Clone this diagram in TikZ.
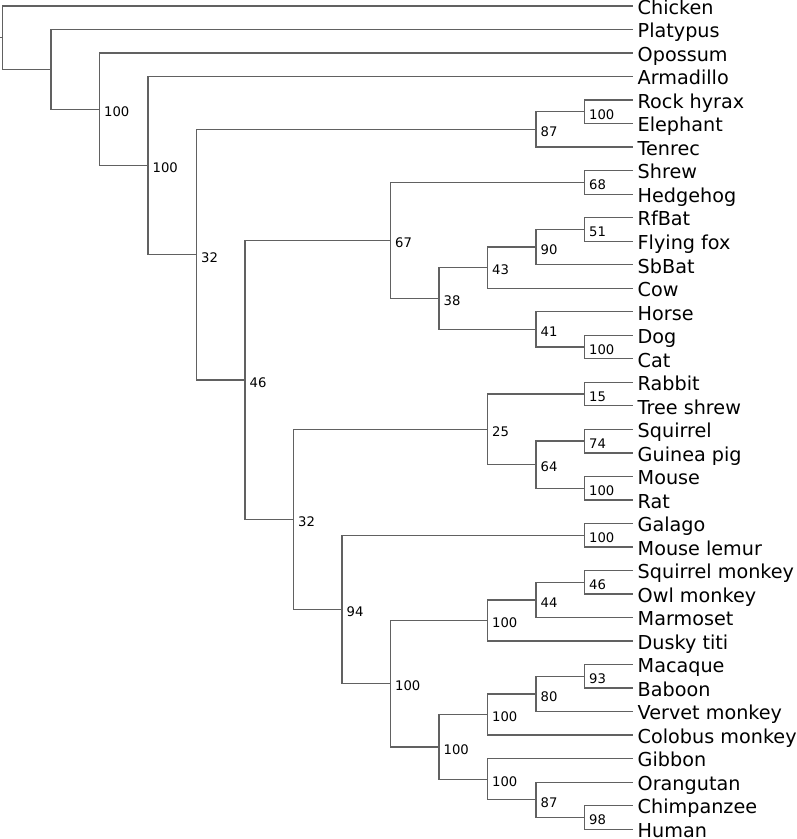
\documentclass[tikz,border=0pt]{standalone}
\usepackage{fontspec}
\setmainfont{DejaVu Sans}
\tikzset{
  edge/.style={draw=black!62, line width=1.3pt},
  leaf/.style={anchor=west, inner xsep=4.5pt, inner ysep=0pt, text height=16.6pt, text depth=0pt, font=\fontsize{19.2}{19.2}\selectfont},
  support/.style={anchor=west, inner xsep=4.5pt, inner ysep=0pt, text height=14.6pt, text depth=0pt, font=\fontsize{13.2}{13.2}\selectfont}
}
\begin{document}
\begin{tikzpicture}[x=1pt,y=-1pt]
\useasboundingbox (0,0) rectangle (797,839);

% leaves
\node[leaf] (chicken) at (633,6) {Chicken};
\node[leaf] (platypus) at (633,29.52) {Platypus};
\node[leaf] (opossum) at (633,53.04) {Opossum};
\node[leaf] (armadillo) at (633,76.56) {Armadillo};
\node[leaf] (hyrax) at (633,100.08) {Rock hyrax};
\node[leaf] (elephant) at (633,123.6) {Elephant};
\node[leaf] (tenrec) at (633,147.12) {Tenrec};
\node[leaf] (shrew) at (633,170.64) {Shrew};
\node[leaf] (hedgehog) at (633,194.16) {Hedgehog};
\node[leaf] (rfbat) at (633,217.68) {RfBat};
\node[leaf] (flyfox) at (633,241.2) {Flying fox};
\node[leaf] (sbbat) at (633,264.72) {SbBat};
\node[leaf] (cow) at (633,288.24) {Cow};
\node[leaf] (horse) at (633,311.76) {Horse};
\node[leaf] (dog) at (633,335.28) {Dog};
\node[leaf] (cat) at (633,358.8) {Cat};
\node[leaf] (rabbit) at (633,382.32) {Rabbit};
\node[leaf] (treeshrew) at (633,405.84) {Tree shrew};
\node[leaf] (squirrel) at (633,429.36) {Squirrel};
\node[leaf] (guineapig) at (633,452.88) {Guinea pig};
\node[leaf] (mouse) at (633,476.4) {Mouse};
\node[leaf] (rat) at (633,499.92) {Rat};
\node[leaf] (galago) at (633,523.44) {Galago};
\node[leaf] (mlemur) at (633,546.96) {Mouse lemur};
\node[leaf] (sqmonkey) at (633,570.48) {Squirrel monkey};
\node[leaf] (owlmonkey) at (633,594) {Owl monkey};
\node[leaf] (marmoset) at (633,617.52) {Marmoset};
\node[leaf] (titi) at (633,641.04) {Dusky titi};
\node[leaf] (macaque) at (633,664.56) {Macaque};
\node[leaf] (baboon) at (633,688.08) {Baboon};
\node[leaf] (vervet) at (633,711.6) {Vervet monkey};
\node[leaf] (colobus) at (633,735.12) {Colobus monkey};
\node[leaf] (gibbon) at (633,758.64) {Gibbon};
\node[leaf] (orangutan) at (633,782.16) {Orangutan};
\node[leaf] (chimp) at (633,805.68) {Chimpanzee};
\node[leaf] (human) at (633,829.2) {Human};

% inner nodes
\coordinate (afro1) at (584.5,111.84);
\coordinate (afro) at (536,129.48);
\coordinate (insect) at (584.5,182.4);
\coordinate (bat1) at (584.5,229.44);
\coordinate (bat) at (536,247.08);
\coordinate (cetbat) at (487.5,267.66);
\coordinate (carn1) at (584.5,347.04);
\coordinate (carn) at (536,329.4);
\coordinate (fereu) at (439,298.53);
\coordinate (laura) at (390.5,240.465);
\coordinate (glires1) at (584.5,394.08);
\coordinate (rod1) at (584.5,441.12);
\coordinate (rod2) at (584.5,488.16);
\coordinate (rod) at (536,464.64);
\coordinate (glires) at (487.5,429.36);
\coordinate (strep) at (584.5,535.2);
\coordinate (nw1) at (584.5,582.24);
\coordinate (nw2) at (536,599.88);
\coordinate (nw) at (487.5,620.46);
\coordinate (ow1) at (584.5,676.32);
\coordinate (ow2) at (536,693.96);
\coordinate (ow) at (487.5,714.54);
\coordinate (ape1) at (584.5,817.44);
\coordinate (ape2) at (536,799.8);
\coordinate (ape) at (487.5,779.22);
\coordinate (catar) at (439,746.88);
\coordinate (anthro) at (390.5,683.67);
\coordinate (prim) at (342,609.435);
\coordinate (euarch) at (293.5,519.3975);
\coordinate (boreo) at (245,379.93);
\coordinate (placA) at (196.5,254.705);
\coordinate (plac) at (148,165.63);
\coordinate (ther) at (99.5,109.335);
\coordinate (mamm) at (51,69.43);
\coordinate (root) at (2.5,37.7);
\coordinate (base) at (0,37.7);

% branches
\draw[edge] (base) -- (root);
\draw[edge] (root) |- (chicken) (root) |- (mamm);
\draw[edge] (mamm) |- (platypus) (mamm) |- (ther);
\draw[edge] (ther) |- (opossum) (ther) |- (plac);
\draw[edge] (plac) |- (armadillo) (plac) |- (placA);
\draw[edge] (placA) |- (afro) (placA) |- (boreo);
\draw[edge] (afro) |- (afro1) (afro) |- (tenrec);
\draw[edge] (afro1) |- (hyrax) (afro1) |- (elephant);
\draw[edge] (boreo) |- (laura) (boreo) |- (euarch);
\draw[edge] (laura) |- (insect) (laura) |- (fereu);
\draw[edge] (insect) |- (shrew) (insect) |- (hedgehog);
\draw[edge] (fereu) |- (cetbat) (fereu) |- (carn);
\draw[edge] (cetbat) |- (bat) (cetbat) |- (cow);
\draw[edge] (bat) |- (bat1) (bat) |- (sbbat);
\draw[edge] (bat1) |- (rfbat) (bat1) |- (flyfox);
\draw[edge] (carn) |- (horse) (carn) |- (carn1);
\draw[edge] (carn1) |- (dog) (carn1) |- (cat);
\draw[edge] (euarch) |- (glires) (euarch) |- (prim);
\draw[edge] (glires) |- (glires1) (glires) |- (rod);
\draw[edge] (glires1) |- (rabbit) (glires1) |- (treeshrew);
\draw[edge] (rod) |- (rod1) (rod) |- (rod2);
\draw[edge] (rod1) |- (squirrel) (rod1) |- (guineapig);
\draw[edge] (rod2) |- (mouse) (rod2) |- (rat);
\draw[edge] (prim) |- (strep) (prim) |- (anthro);
\draw[edge] (strep) |- (galago) (strep) |- (mlemur);
\draw[edge] (anthro) |- (nw) (anthro) |- (catar);
\draw[edge] (nw) |- (nw2) (nw) |- (titi);
\draw[edge] (nw2) |- (nw1) (nw2) |- (marmoset);
\draw[edge] (nw1) |- (sqmonkey) (nw1) |- (owlmonkey);
\draw[edge] (catar) |- (ow) (catar) |- (ape);
\draw[edge] (ow) |- (ow2) (ow) |- (colobus);
\draw[edge] (ow2) |- (ow1) (ow2) |- (vervet);
\draw[edge] (ow1) |- (macaque) (ow1) |- (baboon);
\draw[edge] (ape) |- (gibbon) (ape) |- (ape2);
\draw[edge] (ape2) |- (orangutan) (ape2) |- (ape1);
\draw[edge] (ape1) |- (chimp) (ape1) |- (human);

% support values
\node[support] (s-ther) at (ther) {100};
\node[support] (s-plac) at (plac) {100};
\node[support] (s-placA) at (placA) {32};
\node[support] (s-afro) at (afro) {87};
\node[support] (s-afro1) at (afro1) {100};
\node[support] (s-boreo) at (boreo) {46};
\node[support] (s-laura) at (laura) {67};
\node[support] (s-insect) at (insect) {68};
\node[support] (s-fereu) at (fereu) {38};
\node[support] (s-cetbat) at (cetbat) {43};
\node[support] (s-bat) at (bat) {90};
\node[support] (s-bat1) at (bat1) {51};
\node[support] (s-carn) at (carn) {41};
\node[support] (s-carn1) at (carn1) {100};
\node[support] (s-euarch) at (euarch) {32};
\node[support] (s-glires) at (glires) {25};
\node[support] (s-glires1) at (glires1) {15};
\node[support] (s-rod) at (rod) {64};
\node[support] (s-rod1) at (rod1) {74};
\node[support] (s-rod2) at (rod2) {100};
\node[support] (s-prim) at (prim) {94};
\node[support] (s-strep) at (strep) {100};
\node[support] (s-anthro) at (anthro) {100};
\node[support] (s-nw) at (nw) {100};
\node[support] (s-nw2) at (nw2) {44};
\node[support] (s-nw1) at (nw1) {46};
\node[support] (s-catar) at (catar) {100};
\node[support] (s-ow) at (ow) {100};
\node[support] (s-ow2) at (ow2) {80};
\node[support] (s-ow1) at (ow1) {93};
\node[support] (s-ape) at (ape) {100};
\node[support] (s-ape2) at (ape2) {87};
\node[support] (s-ape1) at (ape1) {98};
\end{tikzpicture}
\end{document}
